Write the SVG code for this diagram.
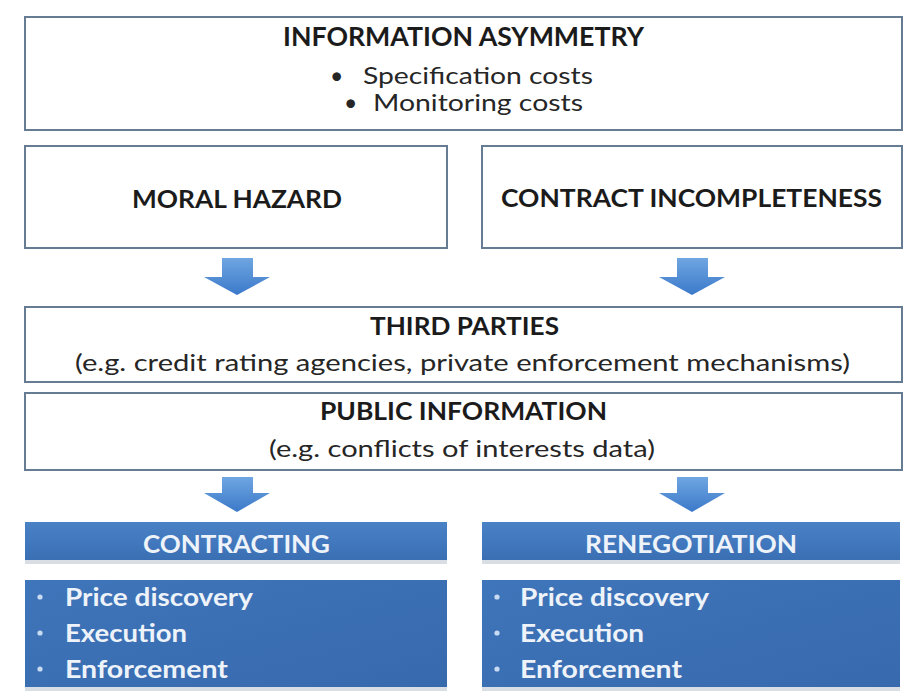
<svg xmlns="http://www.w3.org/2000/svg" width="904" height="697" viewBox="0 0 904 697">
  <defs>
    <linearGradient id="arrowGrad" x1="0" y1="0" x2="0" y2="1">
      <stop offset="0" stop-color="#6fa6e2"/>
      <stop offset="1" stop-color="#3b79c9"/>
    </linearGradient>
    <linearGradient id="headGrad" x1="0" y1="0" x2="0" y2="1">
      <stop offset="0" stop-color="#4a82c6"/>
      <stop offset="1" stop-color="#3a6fb4"/>
    </linearGradient>
    <linearGradient id="listGrad" x1="0" y1="0" x2="1" y2="1">
      <stop offset="0" stop-color="#3f75ba"/>
      <stop offset="1" stop-color="#3769ad"/>
    </linearGradient>
    <style>
      .box { fill: #ffffff; stroke: #667c92; stroke-width: 2; }
      .blue-head { fill: url(#headGrad); }
      .blue-list { fill: url(#listGrad); }
      .shadow { fill: #d9dee4; }
      .arrow { fill: url(#arrowGrad); }
      .bold { font-family: Lato, "Liberation Sans", Arial, sans-serif; font-weight: bold; fill: #1b1b1b; }
      .reg { font-family: Lato, "Liberation Sans", Arial, sans-serif; font-weight: normal; fill: #262626; }
      .white { font-family: Lato, "Liberation Sans", Arial, sans-serif; font-weight: bold; fill: #eef3fa; }
      .dot { fill: #c9dbf2; }
    </style>
  </defs>
  <rect x="0" y="0" width="904" height="697" fill="#ffffff"/>

  <g id="information-asymmetry">
    <rect class="box" x="25" y="17" width="877" height="113"/>
    <text class="bold" x="283" y="46" font-size="26" textLength="361" lengthAdjust="spacingAndGlyphs">INFORMATION ASYMMETRY</text>
    <text class="reg" x="330" y="84" font-size="23">•</text>
    <text class="reg" x="363" y="84" font-size="23" textLength="230" lengthAdjust="spacingAndGlyphs">Specification costs</text>
    <text class="reg" x="344" y="111" font-size="23">•</text>
    <text class="reg" x="373" y="111" font-size="23" textLength="210" lengthAdjust="spacingAndGlyphs">Monitoring costs</text>
  </g>

  <g id="moral-hazard">
    <rect class="box" x="25" y="146" width="422" height="102"/>
    <text class="bold" x="132" y="208" font-size="25" textLength="210" lengthAdjust="spacingAndGlyphs">MORAL HAZARD</text>
  </g>

  <g id="contract-incompleteness">
    <rect class="box" x="482" y="146" width="420" height="102"/>
    <text class="bold" x="501" y="207" font-size="25" textLength="381" lengthAdjust="spacingAndGlyphs">CONTRACT INCOMPLETENESS</text>
  </g>

  <g id="third-parties">
    <rect class="box" x="25" y="307" width="877" height="75"/>
    <text class="bold" x="370" y="335" font-size="25" textLength="189" lengthAdjust="spacingAndGlyphs">THIRD PARTIES</text>
    <text class="reg" x="75" y="371" font-size="24" textLength="775" lengthAdjust="spacingAndGlyphs">(e.g. credit rating agencies, private enforcement mechanisms)</text>
  </g>

  <g id="public-information">
    <rect class="box" x="25" y="393" width="877" height="77"/>
    <text class="bold" x="320" y="420" font-size="25" textLength="287" lengthAdjust="spacingAndGlyphs">PUBLIC INFORMATION</text>
    <text class="reg" x="269" y="457" font-size="24" textLength="386" lengthAdjust="spacingAndGlyphs">(e.g. conflicts of interests data)</text>
  </g>

  <g id="contracting">
    <rect class="shadow" x="25" y="560" width="422" height="4"/>
    <rect class="blue-head" x="25" y="522" width="422" height="38"/>
    <text class="white" x="143" y="553" font-size="25" textLength="187" lengthAdjust="spacingAndGlyphs">CONTRACTING</text>
  </g>

  <g id="contracting-tasks">
    <rect class="shadow" x="25" y="687" width="422" height="4"/>
    <rect class="blue-list" x="25" y="580" width="422" height="107"/>
    <circle class="dot" cx="40" cy="597" r="2.6"/>
    <circle class="dot" cx="40" cy="633" r="2.6"/>
    <circle class="dot" cx="40" cy="669" r="2.6"/>
    <text class="white" x="65" y="606" font-size="24" textLength="188" lengthAdjust="spacingAndGlyphs">Price discovery</text>
    <text class="white" x="65" y="642" font-size="24" textLength="122" lengthAdjust="spacingAndGlyphs">Execution</text>
    <text class="white" x="65" y="678" font-size="24" textLength="163" lengthAdjust="spacingAndGlyphs">Enforcement</text>
  </g>

  <g id="renegotiation">
    <rect class="shadow" x="482" y="560" width="418" height="4"/>
    <rect class="blue-head" x="482" y="522" width="418" height="38"/>
    <text class="white" x="585" y="553" font-size="25" textLength="212" lengthAdjust="spacingAndGlyphs">RENEGOTIATION</text>
  </g>

  <g id="renegotiation-tasks">
    <rect class="shadow" x="482" y="687" width="418" height="4"/>
    <rect class="blue-list" x="482" y="580" width="418" height="107"/>
    <circle class="dot" cx="497" cy="597" r="2.6"/>
    <circle class="dot" cx="497" cy="633" r="2.6"/>
    <circle class="dot" cx="497" cy="669" r="2.6"/>
    <text class="white" x="520" y="606" font-size="24" textLength="189" lengthAdjust="spacingAndGlyphs">Price discovery</text>
    <text class="white" x="520" y="642" font-size="24" textLength="124" lengthAdjust="spacingAndGlyphs">Execution</text>
    <text class="white" x="520" y="678" font-size="24" textLength="162" lengthAdjust="spacingAndGlyphs">Enforcement</text>
  </g>

  <g id="connectors">
    <polygon class="arrow" points="222,258 253,258 253,277 270,277 237,295 204,277 222,277"/>
    <polygon class="arrow" points="677,258 708,258 708,277 725,277 692,295 659,277 677,277"/>
    <polygon class="arrow" points="222,477 253,477 253,493 270,493 237,512 204,493 222,493"/>
    <polygon class="arrow" points="677,477 708,477 708,493 725,493 692,512 659,493 677,493"/>
  </g>
</svg>
